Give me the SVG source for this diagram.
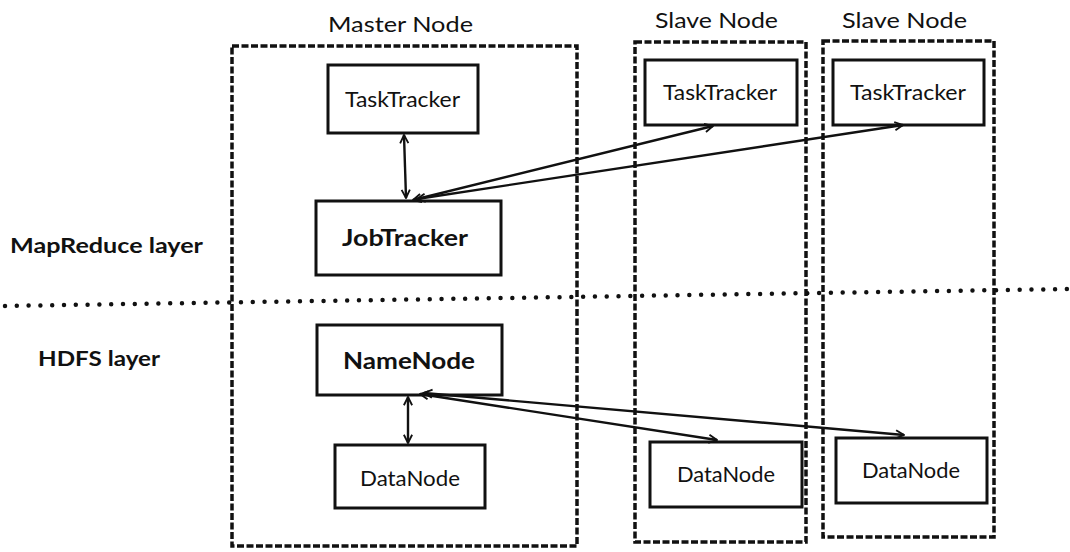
<svg xmlns="http://www.w3.org/2000/svg" width="1070" height="552" viewBox="0 0 1070 552">
  <defs>
    <marker id="open" viewBox="0 0 12 12" refX="11" refY="6" markerWidth="11" markerHeight="11" markerUnits="userSpaceOnUse" orient="auto-start-reverse">
      <polyline points="2,1.5 11,6 2,10.5" fill="none" stroke="#111" stroke-width="2"/>
    </marker>
  </defs>
  <style>
    .bg { fill: #ffffff; }
    .group { fill: none; stroke: #111; stroke-width: 3.5; stroke-dasharray: 7 2.5; }
    .box { fill: #ffffff; stroke: #111; stroke-width: 3; }
    .layer { fill: none; stroke: #111; stroke-width: 4.5; stroke-dasharray: 0 11.8; stroke-linecap: round; }
    .title { font-family: Lato, "Liberation Sans", sans-serif; font-size: 21px; fill: #111; }
    .side { font-family: Lato, "Liberation Sans", sans-serif; font-size: 21px; font-weight: bold; fill: #111; }
    .lbl { font-family: Lato, "Liberation Sans", sans-serif; font-size: 21px; fill: #111; }
    .lblb { font-family: Lato, "Liberation Sans", sans-serif; font-size: 23px; font-weight: bold; fill: #111; }
    .link { fill: none; stroke: #111; stroke-width: 2.4; marker-start: url(#open); marker-end: url(#open); }
  </style>
  <rect class="bg" x="0" y="0" width="1070" height="552"/>

  <!-- layer labels and separator -->
  <g id="layers">
    <text class="side" x="10" y="253" textLength="193" lengthAdjust="spacingAndGlyphs">MapReduce layer</text>
    <text class="side" x="38" y="366" textLength="122" lengthAdjust="spacingAndGlyphs">HDFS layer</text>
    <line class="layer" x1="5" y1="306" x2="1068" y2="289"/>
  </g>

  <!-- master and slave hosts -->
  <g id="master">
    <rect class="group" x="232" y="46" width="345" height="500"/>
    <text class="title" x="328" y="32" textLength="145" lengthAdjust="spacingAndGlyphs">Master Node</text>
  </g>
  <g id="slave1">
    <rect class="group" x="635" y="42" width="171" height="500"/>
    <text class="title" x="655" y="28" textLength="123" lengthAdjust="spacingAndGlyphs">Slave Node</text>
  </g>
  <g id="slave2">
    <rect class="group" x="823" y="41" width="171" height="496"/>
    <text class="title" x="842" y="28" textLength="125" lengthAdjust="spacingAndGlyphs">Slave Node</text>
  </g>

  <!-- daemons -->
  <g id="master-tasktracker">
    <rect class="box" x="328" y="65" width="150" height="68"/>
    <text class="lbl" x="345" y="107" textLength="115" lengthAdjust="spacingAndGlyphs">TaskTracker</text>
  </g>
  <g id="jobtracker">
    <rect class="box" x="316" y="201" width="185" height="74"/>
    <text class="lblb" x="342" y="246" textLength="126" lengthAdjust="spacingAndGlyphs">JobTracker</text>
  </g>
  <g id="namenode">
    <rect class="box" x="317" y="325" width="185" height="70"/>
    <text class="lblb" x="343" y="369" textLength="132" lengthAdjust="spacingAndGlyphs">NameNode</text>
  </g>
  <g id="master-datanode">
    <rect class="box" x="335" y="445" width="150" height="63"/>
    <text class="lbl" x="360" y="486" textLength="100" lengthAdjust="spacingAndGlyphs">DataNode</text>
  </g>
  <g id="slave1-tasktracker">
    <rect class="box" x="645" y="60" width="152" height="65"/>
    <text class="lbl" x="663" y="100" textLength="114" lengthAdjust="spacingAndGlyphs">TaskTracker</text>
  </g>
  <g id="slave2-tasktracker">
    <rect class="box" x="833" y="60" width="151" height="65"/>
    <text class="lbl" x="850" y="100" textLength="116" lengthAdjust="spacingAndGlyphs">TaskTracker</text>
  </g>
  <g id="slave1-datanode">
    <rect class="box" x="650" y="442" width="152" height="65"/>
    <text class="lbl" x="677" y="482" textLength="98" lengthAdjust="spacingAndGlyphs">DataNode</text>
  </g>
  <g id="slave2-datanode">
    <rect class="box" x="836" y="438" width="151" height="65"/>
    <text class="lbl" x="862" y="478" textLength="98" lengthAdjust="spacingAndGlyphs">DataNode</text>
  </g>

  <!-- connectors -->
  <g id="connectors">
    <line class="link" x1="404" y1="135" x2="406" y2="198"/>
    <line class="link" x1="408" y1="397" x2="408" y2="443"/>
    <line class="link" x1="413" y1="200" x2="713" y2="126"/>
    <line class="link" x1="417" y1="199" x2="903" y2="125"/>
    <line class="link" x1="420" y1="394" x2="717" y2="440"/>
    <line class="link" x1="424" y1="393" x2="904" y2="435"/>
  </g>
</svg>
